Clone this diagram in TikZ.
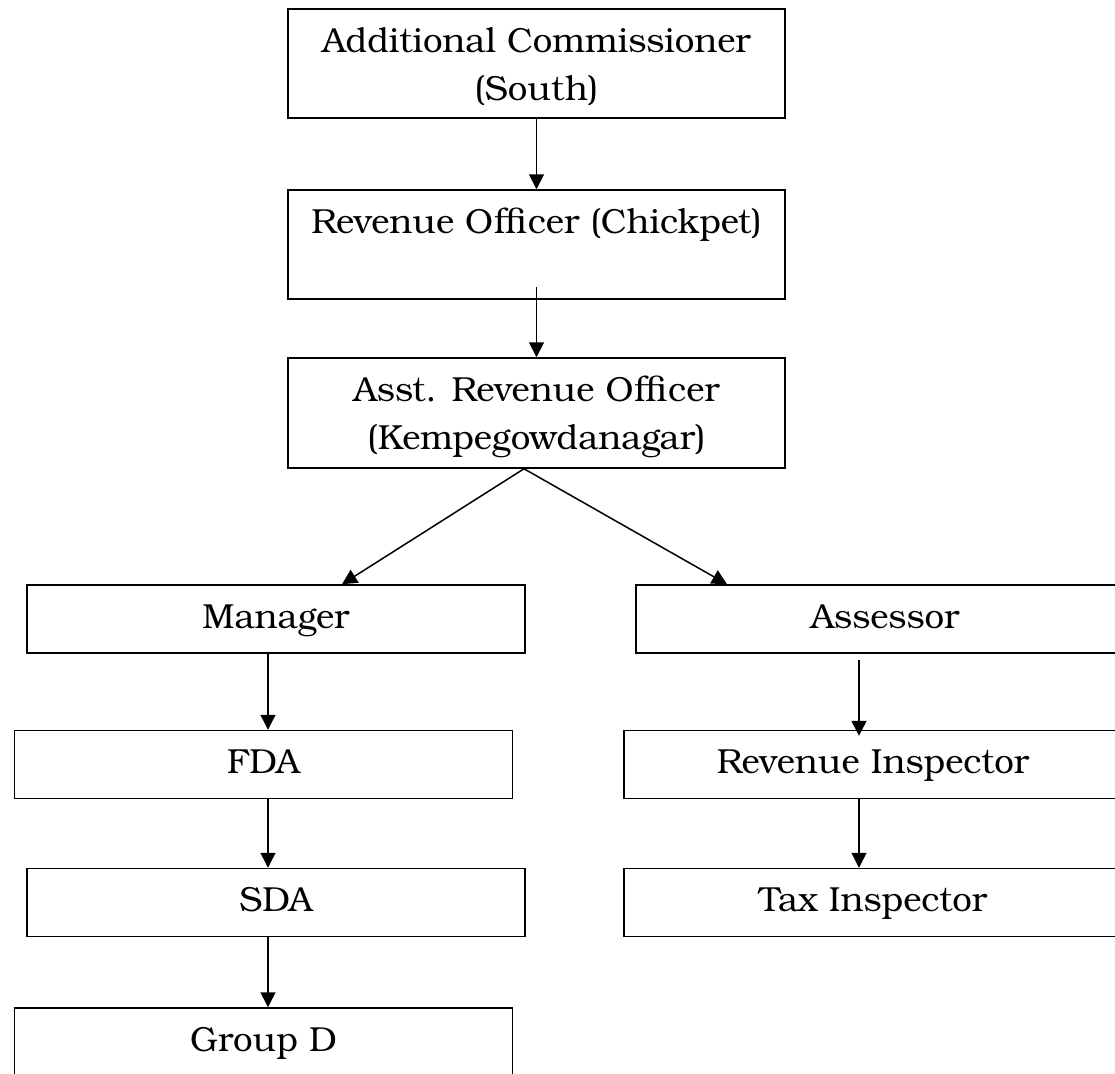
\documentclass[tikz,border=0pt]{standalone}
\usepackage{fontspec}
\setmainfont{TeX Gyre Bonum}
\usetikzlibrary{arrows.meta}
\newcommand{\twoline}[2]{\begin{tabular}[t]{@{}c@{}}#1\\#2\end{tabular}}
\begin{document}
\begin{tikzpicture}[x=0.5pt,y=-0.5pt,
  box/.style={draw=black, line width=0.75pt, rectangle, inner xsep=0pt, inner ysep=0pt,
    text height=21.5pt, font=\fontsize{17.4pt}{24pt}\selectfont},
  tall/.style={box, minimum width=248.5pt, minimum height=54.5pt, text depth=33pt},
  flat/.style={box, minimum width=249pt, minimum height=34pt, text depth=12.5pt},
  arr/.style={line width=0.75pt, -{Triangle[length=7.5pt,width=7.5pt]}}]
\useasboundingbox (0,0) rectangle (1115,1073);
\clip (0,0) rectangle (1115,1073);
\node[tall] (b1) at (536.5,63.5) {\twoline{Additional Commissioner}{(South)}};
\node[tall] (b2) at (536.5,244.5) {Revenue Officer (Chickpet)};
\node[tall, minimum height=55pt] (b3) at (536.5,413) {\twoline{Asst. Revenue Officer}{(Kempegowdanagar)}};
\node[flat] (mgr) at (276,619) {Manager};
\node[flat] (asr) at (885,619) {Assessor};
\node[flat] (fda) at (263.5,764.5) {FDA};
\node[flat] (ri) at (873,764.5) {Revenue Inspector};
\node[flat] (sda) at (276,902.5) {SDA};
\node[flat] (tax) at (873,902.5) {Tax Inspector};
\node[flat] (gd) at (263.5,1042) {Group D};
\draw[arr] (b1.south) -- (b2.north);
\draw[arr] ([yshift=6.5pt]b2.south) -- (b3.north);
\draw[arr] ([xshift=-6.25pt]b3.south) -- ([xshift=33pt]mgr.north);
\draw[arr] ([xshift=-6.25pt]b3.south) -- ([xshift=-79pt]asr.north);
\draw[arr] ([xshift=-4pt]mgr.south) -- ([xshift=-4pt]mgr.south |- fda.north);
\draw[arr] ([xshift=2.25pt]fda.south) -- ([xshift=2.25pt]fda.south |- sda.north);
\draw[arr] ([xshift=-4pt]sda.south) -- ([xshift=-4pt]sda.south |- gd.north);
\draw[arr] ([xshift=-13pt,yshift=-3pt]asr.south) -- ([xshift=-13pt,yshift=-3pt]asr.south |- ri.north);
\draw[arr] ([xshift=-7pt]ri.south) -- ([xshift=-7pt]tax.north);
\end{tikzpicture}
\end{document}
